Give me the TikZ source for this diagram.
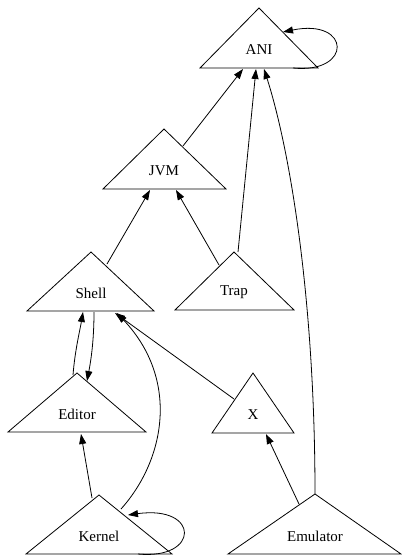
\documentclass[tikz,border=0pt]{standalone}
\usepackage{fontspec}
\setmainfont{Liberation Serif}
\usetikzlibrary{arrows.meta,calc}
\tikzset{
  tri/.style={draw, line width=0.8pt, line join=miter},
  lbl/.style={inner sep=0pt, font=\fontsize{15}{17}\selectfont},
  edge/.style={draw, line width=0.8pt, -{Triangle[length=10pt,width=7pt]}},
}
\newcommand\trishape[6]{% name, cx, apex y, base y, left x, right x
  \draw[tri] (#5,#4) coordinate (#1-bl) -- (#2,#3) coordinate (#1-ap) -- (#6,#4) coordinate (#1-br) -- cycle;}
\begin{document}
\begin{tikzpicture}[x=1pt,y=-1pt]
\useasboundingbox (0,0) rectangle (401,556);
% triangles
\trishape{tANI}{259}{8}{68}{200}{318}
\trishape{tJVM}{164}{129}{189}{103}{226}
\trishape{tShell}{91}{252}{311}{27}{154}
\trishape{tTrap}{234}{252}{310}{175}{294}
\trishape{tEditor}{77}{373}{432}{8}{146}
\trishape{tX}{253}{373}{433}{212}{294}
\trishape{tKernel}{99}{495}{554}{26}{172}
\trishape{tEmu}{315}{494}{554}{228}{401}
% labels
\node[lbl] (ANI) at (259,50) {ANI};
\node[lbl] (JVM) at (164,171) {JVM};
\node[lbl] (Shell) at (91,293) {Shell};
\node[lbl] (Trap) at (234,292) {Trap};
\node[lbl] (Editor) at (77,414) {Editor};
\node[lbl] (X) at (253,415) {X};
\node[lbl] (Kernel) at (99,536) {Kernel};
\node[lbl] (Emulator) at (315,536) {Emulator};
% edges
\draw[edge] ($(ANI)+(34,18)$) .. controls ($(ANI)+(94,24)$) and ($(ANI)+(92,-32)$) .. ($(ANI)+(24,-18)$);
\draw[edge] ($(JVM)+(19,-25)$) -- ($(ANI)+(-16,19)$);
\draw[edge] ($(Trap)+(4,-40)$) -- ($(ANI)+(-3,19)$);
\draw[edge] ($(Emulator)+(0,-42)$) .. controls ($(Emulator)+(0,-236)$) and ($(ANI)+(31,100)$) .. ($(ANI)+(5,19)$);
\draw[edge] ($(Shell)+(16,-29)$) -- ($(JVM)+(-14,19)$);
\draw[edge] ($(Trap)+(-15,-27)$) -- ($(JVM)+(12,19)$);
\draw[edge] ($(Editor)+(-4,-39)$) .. controls ($(Editor)+(-2,-64)$) and ($(Shell)+(-11,37)$) .. ($(Shell)+(-8,19)$);
\draw[edge] ($(Shell)+(3,19)$) .. controls ($(Shell)+(3,42)$) and ($(Editor)+(15,-59)$) .. ($(Editor)+(10,-33)$);
\draw[edge] ($(Kernel)+(22,-27)$) .. controls ($(Kernel)+(66,-76)$) and ($(Shell)+(89,87)$) .. ($(Shell)+(26,20)$);
\draw[edge] ($(X)+(-19,-16)$) -- ($(Shell)+(24,20)$);
\draw[edge] ($(Kernel)+(-7,-38)$) -- ($(Editor)+(4,20)$);
\draw[edge] ($(Kernel)+(39,18)$) .. controls ($(Kernel)+(101,24)$) and ($(Kernel)+(101,-31)$) .. ($(Kernel)+(29,-21)$);
\draw[edge] ($(Emulator)+(-16,-32)$) -- ($(X)+(13,19)$);
\end{tikzpicture}
\end{document}
